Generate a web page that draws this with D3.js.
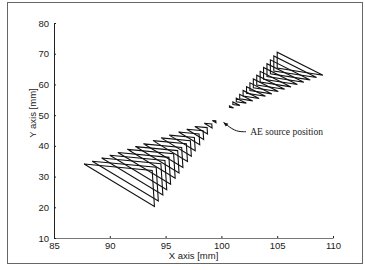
<!DOCTYPE html>
<html lang="en">
<head>
<meta charset="UTF-8">
<title>AE source position</title>
<style>
  html, body { margin: 0; padding: 0; background: #fff; }
  svg { display: block; }
  .axis text { font-family: "Liberation Sans", Arial, sans-serif; font-size: 9.5px; fill: #1a1a1a; }
  .axis path, .axis line { stroke: #222; stroke-width: 1px; }
  .axis--x path { stroke: #777; }
  .tri { fill: none; stroke: #111; stroke-width: 1.1px; stroke-linejoin: miter; }
  .lbl { font-family: "Liberation Sans", Arial, sans-serif; font-size: 9.5px; fill: #1a1a1a; }
  .note { font-family: "Liberation Serif", "Times New Roman", serif; font-size: 9.5px; fill: #222; }
</style>
</head>
<body>
<svg id="chart" width="365" height="270" viewBox="0 0 365 270"></svg>
<script src="https://d3js.org/d3.v7.min.js"></script>
<script>

// tick values
const xTicks = [85, 90, 95, 100, 105, 110];
const yTicks = [10, 20, 30, 40, 50, 60, 70, 80];

// lower-left group: largest triangle and the point it shrinks towards
const lowerCenter = [99.8, 49.0];
const lowerShape = [[87.7, 34.1], [93.8, 32.0], [94.0, 20.3]];
const lowerScales = [1, 0.94, 0.87, 0.81, 0.75, 0.68, 0.62, 0.56, 0.49, 0.43, 0.37, 0.30, 0.24, 0.18, 0.11, 0.05];

// upper-right group
const upperCenter = [100.3, 51.3];
const upperShape = [[105.0, 70.5], [105.0, 65.3], [109.1, 63.0]];
const upperScales = [1, 0.935, 0.87, 0.805, 0.74, 0.675, 0.61, 0.545, 0.48, 0.415, 0.35, 0.285, 0.22, 0.155, 0.09];

// annotation
const noteText = "AE source position";
const notePos = [102.4, 44.6];
const arrowPts = [[102.2, 44.6], [101.5, 44.6], [100.9, 45.6], [100.2, 47.6]];

const svg = d3.select("#chart");

const x = d3.scaleLinear().domain([85, 110]).range([54, 333]);
const y = d3.scaleLinear().domain([10, 80]).range([238, 23]);

// outer frame
svg.append("rect")
    .attr("x", 7.5).attr("y", 2.5)
    .attr("width", 355).attr("height", 261)
    .attr("fill", "none")
    .attr("stroke", "#666")
    .attr("stroke-width", 1);

const xAxis = d3.axisBottom(x).tickValues(xTicks).tickSizeInner(-2).tickSizeOuter(0).tickPadding(4);
const yAxis = d3.axisLeft(y).tickValues(yTicks).tickSizeInner(-2).tickSizeOuter(0).tickPadding(5);

svg.append("g")
    .attr("class", "axis axis--x")
    .attr("transform", "translate(0," + y(10) + ")")
    .call(xAxis);

svg.append("g")
    .attr("class", "axis axis--y")
    .attr("transform", "translate(" + x(85) + ",0)")
    .call(yAxis);

svg.append("text")
    .attr("class", "lbl")
    .attr("x", (x(85) + x(110)) / 2)
    .attr("y", 259)
    .attr("text-anchor", "middle")
    .text("X axis [mm]");

svg.append("text")
    .attr("class", "lbl")
    .attr("transform", "translate(36,113) rotate(-90)")
    .attr("text-anchor", "middle")
    .text("Y axis [mm]");

// triangles
function scaled(center, shape, s) {
  return shape.map(function (p) {
    return [center[0] + s * (p[0] - center[0]), center[1] + s * (p[1] - center[1])];
  });
}

const line = d3.line()
    .x(function (d) { return x(d[0]); })
    .y(function (d) { return y(d[1]); })
    .curve(d3.curveLinearClosed);

const tris = lowerScales.map(function (s) { return scaled(lowerCenter, lowerShape, s); })
    .concat(upperScales.map(function (s) { return scaled(upperCenter, upperShape, s); }));

svg.append("g")
  .selectAll("path")
  .data(tris)
  .join("path")
    .attr("class", "tri")
    .attr("d", line);

// annotation arrow
svg.append("defs").append("marker")
    .attr("id", "head")
    .attr("viewBox", "0 0 10 10")
    .attr("refX", 9).attr("refY", 5)
    .attr("markerWidth", 5).attr("markerHeight", 5)
    .attr("orient", "auto")
  .append("path")
    .attr("d", "M0,1L10,5L0,9Z")
    .attr("fill", "#111");

svg.append("path")
    .attr("d", d3.line()
        .x(function (d) { return x(d[0]); })
        .y(function (d) { return y(d[1]); })
        .curve(d3.curveBasis)(arrowPts))
    .attr("fill", "none")
    .attr("stroke", "#111")
    .attr("stroke-width", 1)
    .attr("marker-end", "url(#head)");

svg.append("text")
    .attr("class", "note")
    .attr("x", x(notePos[0]) + 2)
    .attr("y", y(notePos[1]))
    .attr("dy", "0.35em")
    .text(noteText);

</script>
</body>
</html>
